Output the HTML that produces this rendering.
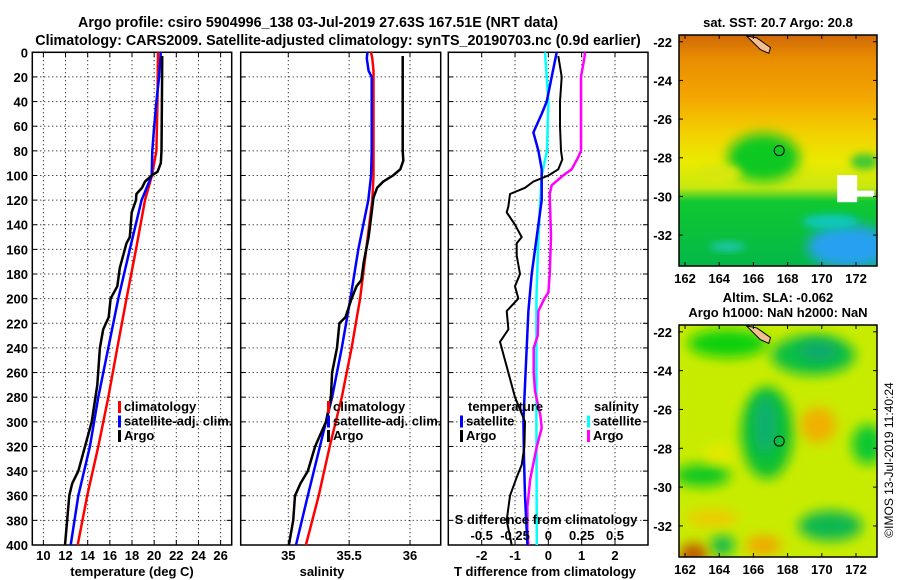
<!DOCTYPE html>
<html><head><meta charset="utf-8"><style>
html,body{margin:0;padding:0;background:#fff;}
svg{display:block;font-family:"Liberation Sans",sans-serif;font-weight:bold;}
</style></head><body>
<svg id="chart" width="900" height="580" viewBox="0 0 900 580" xmlns="http://www.w3.org/2000/svg">
<defs>
<filter id="blur1" x="-50%" y="-50%" width="200%" height="200%"><feGaussianBlur stdDeviation="6"/></filter>
<filter id="blur2" x="-50%" y="-50%" width="200%" height="200%"><feGaussianBlur stdDeviation="4"/></filter>
<clipPath id="clipTop"><rect x="679" y="35" width="198" height="231"/></clipPath>
<clipPath id="clipBot"><rect x="679" y="325" width="198" height="232"/></clipPath>
<linearGradient id="sstGrad" x1="0" y1="0" x2="0" y2="1">
<stop offset="0" stop-color="#d06808"/><stop offset="0.1" stop-color="#e88c00"/>
<stop offset="0.28" stop-color="#f4a800"/><stop offset="0.42" stop-color="#f2d000"/>
<stop offset="0.55" stop-color="#eaea00"/><stop offset="0.66" stop-color="#c8e810"/>
<stop offset="0.72" stop-color="#10c830"/><stop offset="1" stop-color="#04b848"/>
</linearGradient>
</defs>
<g id="title" font-size="14.3" text-anchor="middle">
<text x="318" y="27">Argo profile: csiro 5904996_138 03-Jul-2019 27.63S 167.51E (NRT data)</text>
<text x="338" y="45">Climatology: CARS2009. Satellite-adjusted climatology: synTS_20190703.nc (0.9d earlier)</text>
</g>
<g id="panels"></g>
<g id="maps"></g>
</svg>
<script>
// ---- data ----
const tDepth = [0,20,40,60,80,100,120,160,200,240,280,320,360,400];
const tClim  = [20.35,20.32,20.3,20.25,20.2,19.8,19.17,18.36,17.5,16.67,15.86,14.96,13.96,13.1];
const tSat   = [20.6,20.45,20.2,20.0,19.83,19.78,18.87,17.8,16.76,15.86,14.96,14.2,13.15,12.47];
const argoDepth = [3,20,40,60,80,90,97,100,105,110,115,120,130,150,155,175,190,200,215,225,240,270,300,320,340,350,360,400];
const argoT = [20.73,20.72,20.7,20.68,20.66,20.6,20.3,19.77,19.17,18.9,18.4,18.36,17.97,17.8,17.5,16.9,16.67,16.07,15.9,15.4,15.1,14.87,14.36,13.76,13.15,12.6,12.34,11.95];
const sDepth = [0,5,15,20,40,60,80,100,120,160,200,240,280,320,360,400];
const sClim  = [35.68,35.69,35.7,35.7,35.7,35.7,35.7,35.7,35.69,35.64,35.59,35.52,35.44,35.34,35.25,35.145];
const sSat   = [35.65,35.645,35.66,35.685,35.685,35.685,35.685,35.68,35.657,35.575,35.51,35.44,35.36,35.26,35.16,35.063];
const argoSDepth = [3,20,40,60,80,88,95,100,105,110,118,130,150,170,185,190,200,215,220,240,260,280,300,320,340,350,360,380,400];
const argoS = [35.94,35.94,35.94,35.94,35.94,35.945,35.92,35.86,35.78,35.73,35.70,35.685,35.66,35.62,35.60,35.56,35.52,35.47,35.42,35.40,35.36,35.35,35.31,35.22,35.16,35.10,35.055,35.04,35.005];
const dtDepth = [3,20,40,60,80,87,95,100,105,110,115,125,130,140,150,155,165,180,190,200,210,225,235,250,265,280,300,320,335,345,360,380,400];
const dtArgo = [0.3,0.4,0.35,0.35,0.38,0.42,0.3,0,-0.45,-0.7,-1.15,-1.2,-1.25,-1.0,-0.8,-0.95,-0.95,-0.85,-1.0,-0.9,-1.25,-1.2,-1.45,-1.3,-1.15,-1.0,-0.7,-0.72,-0.8,-0.95,-1.15,-1.25,-1.1];
const dtSatDepth = [0,20,40,50,65,80,95,120,150,180,210,240,270,300,330,360,400];
const dtSat = [0.25,0.1,-0.05,-0.2,-0.45,-0.3,-0.2,-0.2,-0.35,-0.5,-0.6,-0.65,-0.7,-0.75,-0.73,-0.7,-0.63];
const dsSatDepth = [0,40,80,100,150,200,250,300,400];
const dsSat = [-0.025,0,-0.01,-0.05,-0.075,-0.09,-0.09,-0.09,-0.087];
const dsArgoDepth = [0,5,20,80,85,95,100,108,115,150,180,195,200,210,230,240,260,275,295,305,320,347,369,388,400];
const dsArgo = [0.275,0.27,0.245,0.245,0.225,0.175,0.11,0.025,0.01,0.02,0.01,0,-0.03,-0.075,-0.08,-0.11,-0.11,-0.1,-0.06,-0.05,-0.087,-0.137,-0.157,-0.157,-0.15];
const depthTicks = [0,20,40,60,80,100,120,140,160,180,200,220,240,260,280,300,320,340,360,380,400];
const tTicks = [10,12,14,16,18,20,22,24,26];
const sTicks = [35,35.5,36];
const sTickLabels = ['35','35.5','36'];
const dTTicks = [-2,-1,0,1,2];
const dSTicks = [-0.5,-0.25,0,0.25,0.5];
const dSTickLabels = ['-0.5','-0.25','0','0.25','0.5'];
const lonTicks = [162,164,166,168,170,172];
const latTicks = [-22,-24,-26,-28,-30,-32];
const floatLon = 167.51, floatLat = -27.63;

const NS='http://www.w3.org/2000/svg';
function mk(tag,attrs,parent,txt){const e=document.createElementNS(NS,tag);for(const k in attrs)e.setAttribute(k,attrs[k]);if(txt!==undefined)e.textContent=txt;parent.appendChild(e);return e;}
const yTop=52.3,yBot=545;
const yS=d=>yTop+(d/400)*(yBot-yTop);
function lin(d0,d1,r0,r1){return v=>r0+(v-d0)/(d1-d0)*(r1-r0);}
const panels=document.getElementById('panels');

function panel(name,x0,x1,xs,xticks){
  const g=mk('g',{},panels);
  
  
  xticks.forEach(t=>{const l=mk('line',{x1:xs(t),x2:xs(t),y1:yTop,y2:yBot,stroke:'#000','stroke-width':1,'stroke-dasharray':'1,3'},g);
    
    mk('line',{x1:xs(t),x2:xs(t),y1:yBot,y2:yBot-5,stroke:'#000'},g);mk('line',{x1:xs(t),x2:xs(t),y1:yTop,y2:yTop+5,stroke:'#000'},g);});
  depthTicks.forEach(d=>{if(d>0&&d<400){const l=mk('line',{x1:x0,x2:x1,y1:yS(d),y2:yS(d),stroke:'#000','stroke-width':1,'stroke-dasharray':'1,3'},g);
    }
    mk('line',{x1:x0,x2:x0+5,y1:yS(d),y2:yS(d),stroke:'#000'},g);mk('line',{x1:x1-5,x2:x1,y1:yS(d),y2:yS(d),stroke:'#000'},g);});
  const r=mk('rect',{x:x0,y:yTop,width:x1-x0,height:yBot-yTop,fill:'none',stroke:'#000','stroke-width':1.5},g);
  
  return g;
}
function line(g,name,xs,vals,depths,color,w){
  const p=mk('polyline',{points:vals.map((v,i)=>xs(v).toFixed(1)+','+yS(depths[i]).toFixed(1)).join(' '),fill:'none',stroke:color,'stroke-width':w,'stroke-linejoin':'round'},g);
  
}
function legend(g,x,y,items){
  items.forEach((it,i)=>{const yy=y+i*14.5;
    mk('rect',{x:x,y:yy-10,width:3,height:12,fill:it[1]},g);
    const t=mk('text',{x:x+6,y:yy,'font-size':13},g,it[0]);
    });
}
// Panel 1 temperature
const xT=lin(9,27,32.3,231.7);
const p1=panel('temperature-panel',32.3,231.7,xT,tTicks);
line(p1,'temperature-climatology-line',xT,tClim,tDepth,'#f00',2.5);
line(p1,'temperature-satellite-line',xT,tSat,tDepth,'#00f',2.5);
line(p1,'temperature-argo-line',xT,argoT,argoDepth,'#000',2.5);
depthTicks.forEach(d=>{const t=mk('text',{x:28,y:yS(d)+5,'font-size':13,'text-anchor':'end'},p1,String(d));});
tTicks.forEach(v=>{const t=mk('text',{x:xT(v),y:560,'font-size':13,'text-anchor':'middle'},p1,String(v));});
let at=mk('text',{x:132,y:576,'font-size':13,'text-anchor':'middle'},p1,'temperature (deg C)');
legend(p1,118,411,[['climatology','#f00'],['satellite-adj. clim.','#00f'],['Argo','#000']]);
// Panel 2 salinity
const xSl=lin(35,36,288.3,410);
const p2=panel('salinity-panel',240.7,440.7,xSl,sTicks);
line(p2,'salinity-climatology-line',xSl,sClim,sDepth,'#f00',2.5);
line(p2,'salinity-satellite-line',xSl,sSat,sDepth,'#00f',2.5);
line(p2,'salinity-argo-line',xSl,argoS,argoSDepth,'#000',2.5);
sTicks.forEach((v,i)=>{const t=mk('text',{x:xSl(v),y:560,'font-size':13,'text-anchor':'middle'},p2,sTickLabels[i]);});
at=mk('text',{x:322,y:576,'font-size':13,'text-anchor':'middle'},p2,'salinity');
legend(p2,327,411,[['climatology','#f00'],['satellite-adj. clim.','#00f'],['Argo','#000']]);
// Panel 3 differences
const xDT=lin(-2,2,481.7,615);
const xDS=lin(-0.5,0.5,481.7,615);
const p3=panel('difference-panel',448.3,648,xDT,dTTicks);
line(p3,'s-diff-satellite-line',xDS,dsSat,dsSatDepth,'#0ff',2.5);
line(p3,'s-diff-argo-line',xDS,dsArgo,dsArgoDepth,'#f0f',2.5);
line(p3,'t-diff-satellite-line',xDT,dtSat,dtSatDepth,'#00f',2.5);
line(p3,'t-diff-argo-line',xDT,dtArgo,dtDepth,'#000',2);
dTTicks.forEach(v=>{const t=mk('text',{x:xDT(v),y:560,'font-size':13,'text-anchor':'middle'},p3,String(v));});
dSTicks.forEach((v,i)=>{const t=mk('text',{x:xDS(v),y:540,'font-size':13,'text-anchor':'middle'},p3,dSTickLabels[i]);});
at=mk('text',{x:546,y:524,'font-size':13,'text-anchor':'middle'},p3,'S difference from climatology');
at=mk('text',{x:545,y:576,'font-size':13,'text-anchor':'middle'},p3,'T difference from climatology');
let lt=mk('text',{x:468,y:411,'font-size':13},p3,'temperature');
lt=mk('text',{x:594,y:411,'font-size':13},p3,'salinity');
legend(p3,460,425.5,[['satellite','#00f'],['Argo','#000']]);
legend(p3,587,425.5,[['satellite','#0ff'],['Argo','#f0f']]);

// ---- maps ----
const maps=document.getElementById('maps');
const mlon=lin(162,172,685,856);
function mapFrame(name,y0,y1,latTop,latBot,title,clip,draw){
  const g=mk('g',{},maps);
  
  
  const mlat=lin(latTop,latBot,y0,y1);
  const inner=mk('g',{'clip-path':'url(#'+clip+')'},g);
  draw(inner,mlat);
  mk('path',{d:`M${mlon(165.6)} ${mlat(-21.7)} L${mlon(166.2)} ${mlat(-21.8)} L${mlon(167.0)} ${mlat(-22.3)} L${mlon(166.9)} ${mlat(-22.6)} L${mlon(166.4)} ${mlat(-22.4)} Z`,fill:'#f5c090',stroke:'#000','stroke-width':1},inner);
  const c=mk('circle',{cx:mlon(floatLon),cy:mlat(floatLat),r:5,fill:'none',stroke:'#000','stroke-width':1},g);
  
  mk('rect',{x:679,y:y0,width:198,height:y1-y0,fill:'none',stroke:'#000','stroke-width':1.5},g);
  latTicks.forEach(v=>{const y=mlat(v);const t=mk('text',{x:672,y:y+5,'font-size':13,'text-anchor':'end'},g,String(v));
    
    mk('line',{x1:679,x2:683,y1:y,y2:y,stroke:'#000'},g);mk('line',{x1:873,x2:877,y1:y,y2:y,stroke:'#000'},g);});
  lonTicks.forEach(v=>{const x=mlon(v);const t=mk('text',{x:x,y:y1+17,'font-size':13,'text-anchor':'middle'},g,String(v));
    
    mk('line',{x1:x,x2:x,y1:y0,y2:y0+4,stroke:'#000'},g);mk('line',{x1:x,x2:x,y1:y1-4,y2:y1,stroke:'#000'},g);});
  title.forEach((s,i)=>{const t=mk('text',{x:778,y:y0-8+i*15-(title.length-1)*15,'font-size':13,'text-anchor':'middle'},g,s);});
}
function blob(g,mlat,lon,lat,rx,ry,color,f){mk('ellipse',{cx:mlon(lon),cy:mlat(lat),rx:rx,ry:ry,fill:color,filter:'url(#'+(f||'blur1')+')'},g);}
mapFrame('sst-map',35,266,-21.65,-33.6,['sat. SST: 20.7 Argo: 20.8'],'clipTop',(g,mlat)=>{
  mk('rect',{x:679,y:35,width:198,height:231,fill:'url(#sstGrad)'},g);
  blob(g,mlat,166.6,-28.0,36,24,'#10c820');
  blob(g,mlat,164.0,-28.8,22,8,'#d8e810','blur2');
  blob(g,mlat,171.6,-32.6,42,22,'#28a0f0');
  blob(g,mlat,170.5,-31.3,28,7,'#10c8c0','blur2');
  blob(g,mlat,172.5,-28.2,14,8,'#40c830','blur2');
  blob(g,mlat,164.5,-32.6,18,4,'#20c8c0','blur2');
  mk('rect',{x:mlon(170.9),y:mlat(-28.9),width:20,height:mlat(-30.3)-mlat(-28.9),fill:'#fff'},g);
  mk('rect',{x:mlon(171.9),y:mlat(-29.7),width:20,height:6,fill:'#fff'},g);
});
mapFrame('sla-map',325,557,-21.65,-33.6,['Altim. SLA: -0.062','Argo h1000: NaN h2000: NaN'],'clipBot',(g,mlat)=>{
  mk('rect',{x:679,y:325,width:198,height:232,fill:'#c8ec00'},g);
  blob(g,mlat,169.5,-23.2,42,20,'#10c040');
  blob(g,mlat,169.8,-23.0,20,10,'#10a870');
  blob(g,mlat,164.5,-22.6,40,14,'#10d010');
  blob(g,mlat,166.8,-27.2,26,46,'#10c030');
  blob(g,mlat,166.7,-26.8,12,30,'#10b070');
  blob(g,mlat,163.0,-29.4,28,11,'#10c820');
  blob(g,mlat,172.7,-27.8,16,20,'#10c830');
  blob(g,mlat,170.5,-32.0,32,15,'#10b850');
  blob(g,mlat,164.2,-33.0,12,10,'#10b850');
  blob(g,mlat,169.8,-26.8,18,18,'#f0b000');
  blob(g,mlat,166.6,-33.0,18,10,'#f0a800');
  blob(g,mlat,163.6,-31.6,26,8,'#f0c800');
  blob(g,mlat,162.5,-33.5,14,12,'#c05800');
  blob(g,mlat,164.0,-28.3,16,8,'#e8e800');
});
const cr=mk('text',{x:893,y:460,'font-size':12,'font-weight':'normal','text-anchor':'middle',transform:'rotate(-90 893 460)'},maps,'©IMOS 13-Jul-2019 11:40:24');

</script>
</body></html>
